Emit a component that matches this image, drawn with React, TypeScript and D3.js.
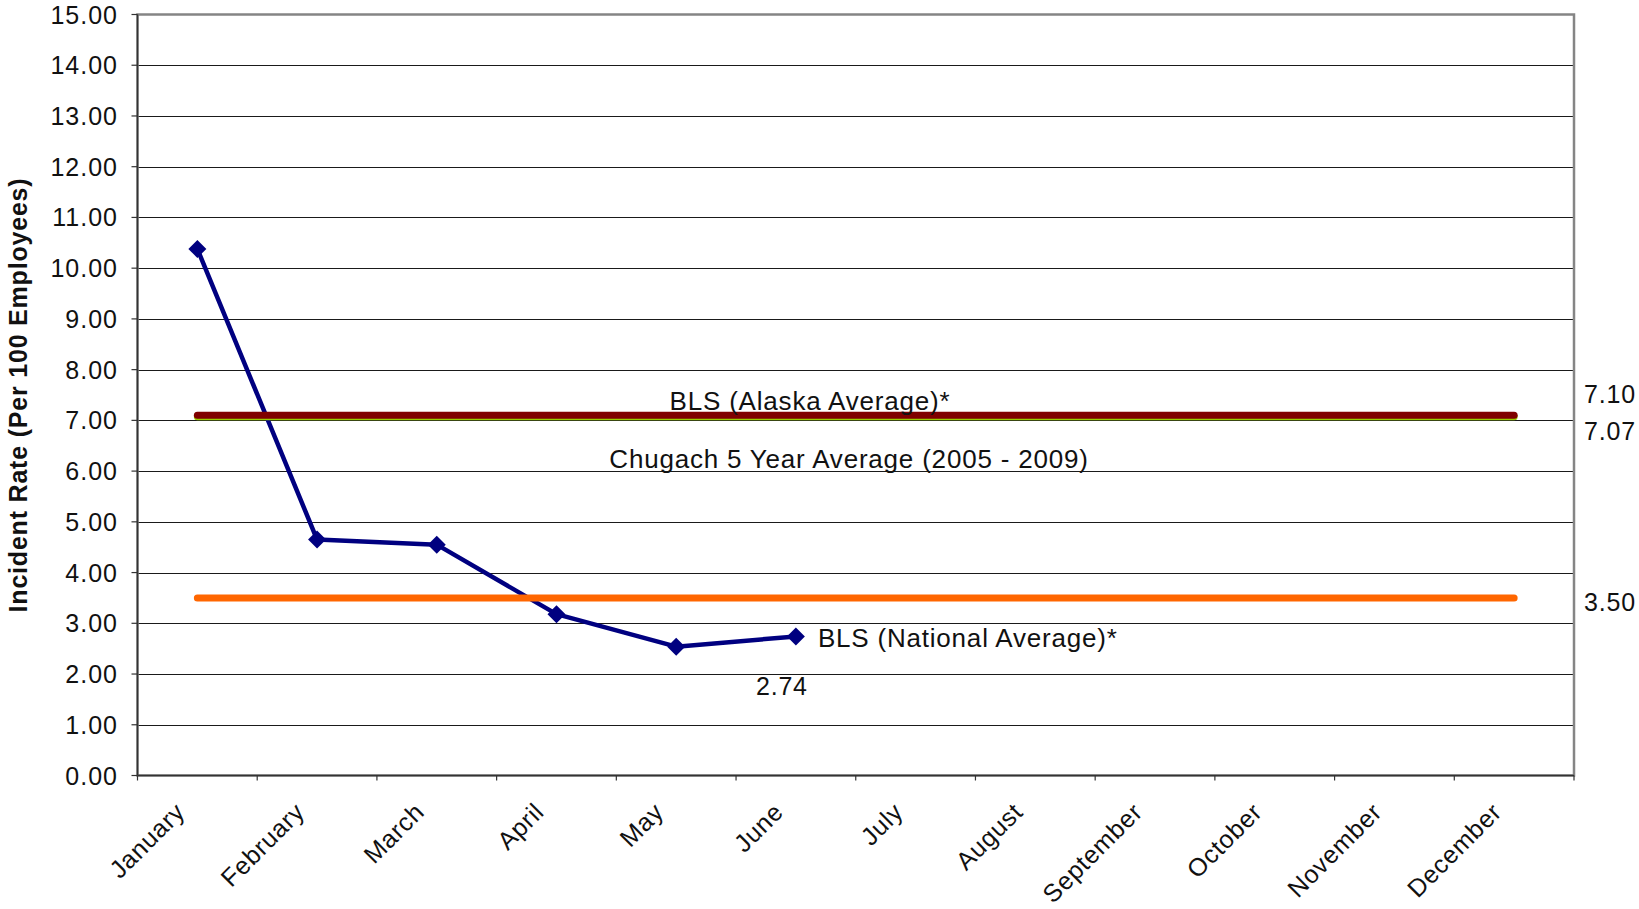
import { useEffect, useRef } from "react"
import * as d3 from "d3"

const months = [
  "January", "February", "March", "April", "May", "June",
  "July", "August", "September", "October", "November", "December",
]
// monthly incident rate, Jan - Jun only
const incidentRate = [10.38, 4.65, 4.55, 3.18, 2.54, 2.74]
const alaskaAvg = 7.1
const chugachAvg = 7.07
const nationalAvg = 3.5
const yTicks = d3.range(0, 16, 1)

const W = 1639
const H = 909

export default function App() {
  const svgRef = useRef<SVGSVGElement>(null)

  useEffect(() => {
    if (!svgRef.current) return
    const svg = d3.select(svgRef.current)
    svg.selectAll("*").remove()

    const left = 137.5
    const right = 1574
    const top = 14.5
    const bottom = 775.5
    const font = "Liberation Sans, Arial, sans-serif"

    const x = d3.scaleBand<string>().domain(months).range([left, right])
    const cx = (m: string) => (x(m) ?? 0) + x.bandwidth() / 2
    const y = d3.scaleLinear().domain([0, 15]).range([bottom, top])

    svg.append("rect").attr("width", W).attr("height", H).attr("fill", "#fff")

    // gridlines
    svg.append("g")
      .selectAll("line")
      .data(yTicks.slice(1, -1))
      .join("line")
      .attr("x1", left).attr("x2", right)
      .attr("y1", d => Math.round(y(d)) + 0.5).attr("y2", d => Math.round(y(d)) + 0.5)
      .attr("stroke", "#1a1a1a")
      .attr("stroke-width", 1)

    // plot border
    svg.append("rect")
      .attr("x", left).attr("y", top)
      .attr("width", right - left).attr("height", bottom - top)
      .attr("fill", "none")
      .attr("stroke", "#858585")
      .attr("stroke-width", 2.5)

    // axes
    svg.append("line")
      .attr("x1", left).attr("x2", left).attr("y1", top).attr("y2", bottom)
      .attr("stroke", "#333").attr("stroke-width", 1.5)
    svg.append("line")
      .attr("x1", left).attr("x2", right).attr("y1", bottom).attr("y2", bottom)
      .attr("stroke", "#333").attr("stroke-width", 1.5)

    // y ticks + labels
    const yg = svg.append("g")
    yg.selectAll("line")
      .data(yTicks)
      .join("line")
      .attr("x1", left - 6).attr("x2", left)
      .attr("y1", d => y(d)).attr("y2", d => y(d))
      .attr("stroke", "#333").attr("stroke-width", 1.2)
    yg.selectAll("text")
      .data(yTicks)
      .join("text")
      .attr("x", 118)
      .attr("y", d => y(d))
      .attr("dy", "0.36em")
      .attr("text-anchor", "end")
      .attr("font-family", font)
      .attr("font-size", 25)
      .attr("letter-spacing", 1)
      .attr("fill", "#111")
      .text(d => d.toFixed(2))

    // x ticks + labels
    const xg = svg.append("g")
    xg.selectAll("line")
      .data(d3.range(months.length + 1))
      .join("line")
      .attr("x1", i => left + i * x.step()).attr("x2", i => left + i * x.step())
      .attr("y1", bottom).attr("y2", bottom + 5)
      .attr("stroke", "#333").attr("stroke-width", 1.2)
    xg.selectAll("text")
      .data(months)
      .join("text")
      .attr("transform", d => `translate(${cx(d) - 11},${bottom + 38}) rotate(-45)`)
      .attr("text-anchor", "end")
      .attr("font-family", font)
      .attr("font-size", 25)
      .attr("letter-spacing", 0.7)
      .attr("fill", "#111")
      .text(d => d)

    // y axis title
    svg.append("text")
      .attr("transform", `translate(27,395) rotate(-90)`)
      .attr("text-anchor", "middle")
      .attr("font-family", font)
      .attr("font-size", 25)
      .attr("font-weight", "bold")
      .attr("letter-spacing", 0.8)
      .attr("fill", "#111")
      .text("Incident Rate (Per 100 Employees)")

    // data series
    const pts = incidentRate.map((v, i) => [cx(months[i]), y(v)] as [number, number])
    svg.append("path")
      .datum(pts)
      .attr("d", d3.line())
      .attr("fill", "none")
      .attr("stroke", "#000080")
      .attr("stroke-width", 4.5)
      .attr("stroke-linejoin", "round")
    svg.append("g")
      .selectAll("path")
      .data(pts)
      .join("path")
      .attr("transform", d => `translate(${d[0]},${d[1]})`)
      .attr("d", "M0,-9L9,0L0,9L-9,0Z")
      .attr("fill", "#000080")

    // reference lines (drawn over the series, as in the original)
    const x0 = cx(months[0])
    const x1 = cx(months[months.length - 1])
    const refLines = [
      { v: chugachAvg, color: "#99cc00" },
      { v: alaskaAvg, color: "#800000" },
      { v: nationalAvg, color: "#ff6600" },
    ]
    svg.append("g")
      .selectAll("line")
      .data(refLines)
      .join("line")
      .attr("x1", x0).attr("x2", x1)
      .attr("y1", d => y(d.v)).attr("y2", d => y(d.v))
      .attr("stroke", d => d.color)
      .attr("stroke-width", 7)
      .attr("stroke-linecap", "round")

    // annotations
    const ann = (txt: string, tx: number, ty: number, anchor = "middle", size = 26) =>
      svg.append("text")
        .attr("x", tx).attr("y", ty)
        .attr("dy", "0.36em")
        .attr("text-anchor", anchor)
        .attr("font-family", font)
        .attr("font-size", size)
        .attr("letter-spacing", 0.8)
        .attr("fill", "#111")
        .text(txt)

    ann("BLS (Alaska Average)*", 810, y(alaskaAvg) - 15)
    ann("Chugach 5 Year Average (2005 - 2009)", 849, y(chugachAvg) + 42)
    ann("BLS (National Average)*", cx(months[5]) + 22, y(incidentRate[5]) + 1, "start")
    ann(incidentRate[5].toFixed(2), cx(months[5]) - 14, y(incidentRate[5]) + 50, "middle", 25)
    ann(alaskaAvg.toFixed(2), 1584, y(alaskaAvg) - 21, "start", 25)
    ann(chugachAvg.toFixed(2), 1584, y(chugachAvg) + 14, "start", 25)
    ann(nationalAvg.toFixed(2), 1584, y(nationalAvg) + 4, "start", 25)
  }, [])

  return (
    <svg
      ref={svgRef}
      width={W}
      height={H}
      style={{ position: "absolute", left: 0, top: 0, display: "block" }}
    />
  )
}
